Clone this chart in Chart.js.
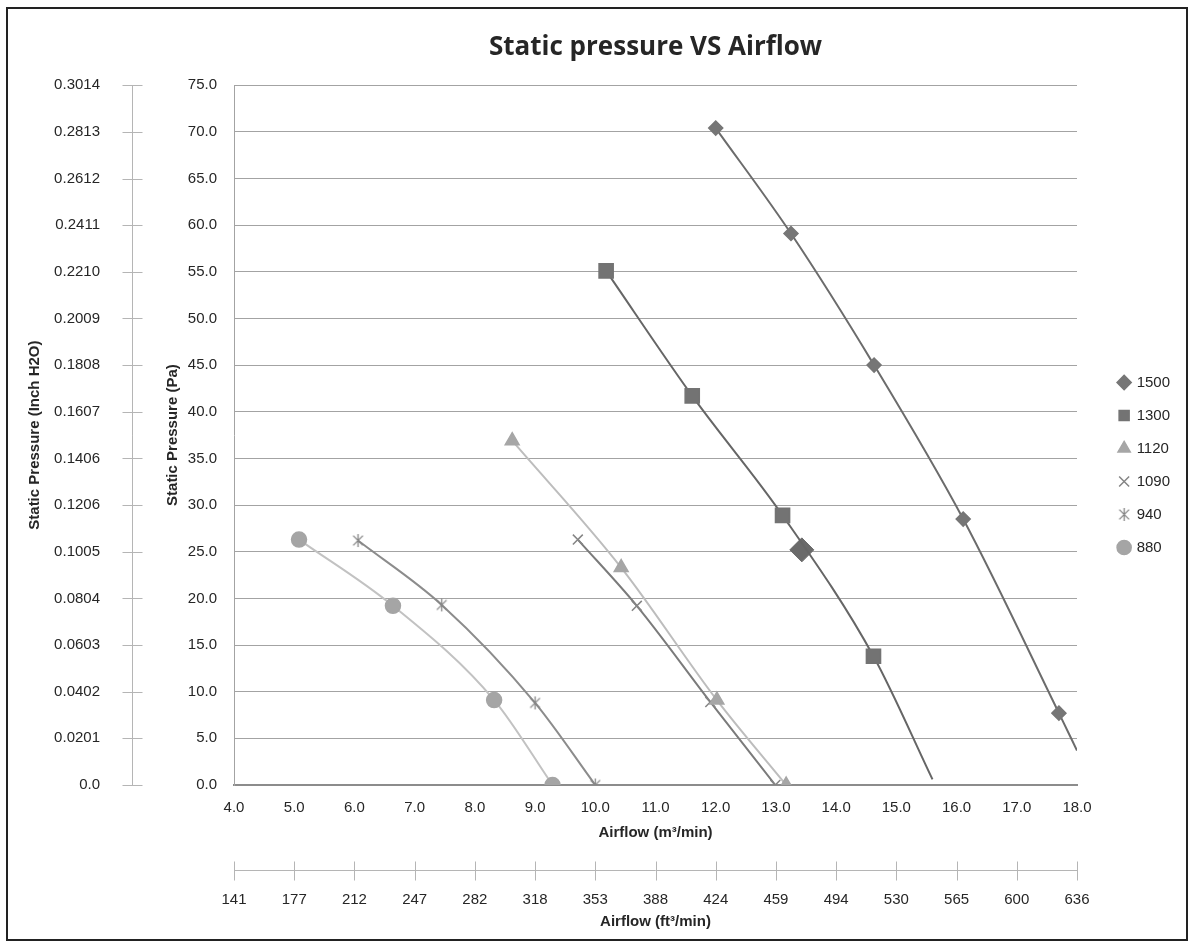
<!DOCTYPE html>
<html lang="en">
<head>
<meta charset="UTF-8">
<title>Static pressure VS Airflow</title>
<script src="https://cdn.jsdelivr.net/npm/chart.js"></script>
<style>
  html, body { margin: 0; padding: 0; background: #fff; }
  #wrap { width: 1190px; height: 948px; }
</style>
</head>
<body>
<div id="wrap"><canvas id="chart" width="1190" height="948"></canvas></div>
<script>
// fan speeds (legend)
const seriesNames = ['1500', '1300', '1120', '1090', '940', '880'];

// airflow (m3/min) and static pressure (Pa)
// the last entry of 1500 and 1300 is where the drawn curve ends (no marker)
const flow1500 = [12.00, 13.25, 14.63, 16.11, 17.70, 18.00];
const pa1500   = [70.4, 59.1, 45.0, 28.5, 7.7, 3.7];
const flow1300 = [10.18, 11.61, 13.11, 14.62, 15.60];
const pa1300   = [55.1, 41.7, 28.9, 13.8, 0.6];
const flow1120 = [8.62, 10.43, 12.02, 13.17];
const pa1120   = [36.9, 23.3, 9.1, 0.0];
const flow1090 = [9.71, 10.69, 11.91, 12.99];
const pa1090   = [26.3, 19.2, 8.9, 0.0];
const flow940  = [6.06, 7.45, 9.00, 10.00];
const pa940    = [26.2, 19.3, 8.8, 0.0];
const flow880  = [5.08, 6.64, 8.32, 9.29];
const pa880    = [26.3, 19.2, 9.1, 0.0];

// highlighted point sitting on the 1300 curve
const selFlow = [13.43];
const selPa   = [25.2];

// secondary axis labels
const inchTicks = ['0.0', '0.0201', '0.0402', '0.0603', '0.0804', '0.1005', '0.1206', '0.1406',
                   '0.1607', '0.1808', '0.2009', '0.2210', '0.2411', '0.2612', '0.2813', '0.3014'];
const cfmTicks = ['141', '177', '212', '247', '282', '318', '353', '388', '424', '459', '494',
                  '530', '565', '600', '636'];

const FONT = "'Liberation Sans', Arial, sans-serif";
Chart.defaults.font.family = FONT;
Chart.defaults.color = '#262626';

// asterisk marker for the 940 series
function asterisk(size, color) {
    const c = document.createElement('canvas');
    c.width = size; c.height = size;
    const g = c.getContext('2d');
    const m = size / 2, r = size / 2 - 1;
    g.strokeStyle = color;
    g.lineWidth = 1.3;
    g.beginPath();
    g.moveTo(m, m - r); g.lineTo(m, m + r);
    g.moveTo(m - r * 0.75, m - r * 0.75); g.lineTo(m + r * 0.75, m + r * 0.75);
    g.moveTo(m + r * 0.75, m - r * 0.75); g.lineTo(m - r * 0.75, m + r * 0.75);
    g.stroke();
    return c;
}

function pts(xs, ys) {
    return xs.map((x, i) => ({ x: x, y: ys[i] }));
}

// markers only on the measured points, not on the curve tail
function radii(n, r, tail) {
    const a = [];
    for (let i = 0; i < n; i++) a.push(i >= n - tail ? 0 : r);
    return a;
}

function series(label, xs, ys, marker, line, style, r, tail) {
    return {
        label: label,
        data: pts(xs, ys),
        showLine: true,
        cubicInterpolationMode: 'monotone',
        borderColor: line,
        borderWidth: 2,
        backgroundColor: marker,
        pointStyle: style,
        pointRadius: radii(xs.length, r, tail),
        pointHoverRadius: radii(xs.length, r, tail),
        pointBackgroundColor: marker,
        pointBorderColor: marker,
        pointBorderWidth: 1.5
    };
}

const datasets = [
    series(seriesNames[0], flow1500, pa1500, '#767676', '#6c6c6c', 'rectRot', 7, 1),
    series(seriesNames[1], flow1300, pa1300, '#737373', '#666666', 'rect', 10, 1),
    series(seriesNames[2], flow1120, pa1120, '#a6a6a6', '#bdbdbd', 'triangle', 8, 0),
    series(seriesNames[3], flow1090, pa1090, '#858585', '#7b7b7b', 'crossRot', 7, 0),
    series(seriesNames[4], flow940, pa940, '#8a8a8a', '#8c8c8c', asterisk(15, '#858585'), 7, 0),
    series(seriesNames[5], flow880, pa880, '#a5a5a5', '#c2c2c2', 'circle', 7.5, 0),
    {
        label: 'selected',
        data: pts(selFlow, selPa),
        showLine: false,
        pointStyle: 'rectRot',
        pointRadius: 12,
        backgroundColor: '#6a6a6a',
        pointBackgroundColor: '#6a6a6a',
        pointBorderColor: '#6a6a6a'
    }
];

// inch H2O axis and ft3/min axis: line with ticks crossing it, plus the outer frame
const extraAxes = {
    id: 'extraAxes',
    afterDraw(chart) {
        const { ctx, scales: { y2, x2 } } = chart;
        ctx.save();
        ctx.strokeStyle = '#b5b5b5';
        ctx.lineWidth = 1;
        ctx.beginPath();
        const ax = Math.round(y2.right - 10) + 0.5;
        ctx.moveTo(ax, y2.getPixelForValue(0));
        ctx.lineTo(ax, y2.getPixelForValue(75));
        y2.ticks.forEach(t => {
            const py = Math.round(y2.getPixelForValue(t.value)) + 0.5;
            ctx.moveTo(ax - 10, py); ctx.lineTo(ax + 10, py);
        });
        const ay = Math.round(x2.top + 25) + 0.5;
        ctx.moveTo(x2.getPixelForValue(4), ay);
        ctx.lineTo(x2.getPixelForValue(18), ay);
        x2.ticks.forEach(t => {
            const px = Math.round(x2.getPixelForValue(t.value)) + 0.5;
            ctx.moveTo(px, ay - 9); ctx.lineTo(px, ay + 10);
        });
        ctx.stroke();

        ctx.strokeStyle = '#222';
        ctx.lineWidth = 2;
        ctx.strokeRect(7, 8, 1180, 932);
        ctx.restore();
    }
};

const tickFont = { family: FONT, size: 15 };
const titleFont = { family: FONT, size: 15, weight: 'bold' };

new Chart(document.getElementById('chart'), {
    type: 'scatter',
    data: { datasets: datasets },
    options: {
        responsive: false,
        animation: false,
        devicePixelRatio: 1,
        layout: { padding: { top: 10, left: 8, right: 10, bottom: 10 } },
        plugins: {
            title: {
                display: true,
                text: 'Static pressure VS Airflow',
                fullSize: false,
                color: '#262626',
                font: { family: "'Open Sans'", size: 26, weight: 'bold' },
                padding: { top: 22, bottom: 22 }
            },
            legend: {
                position: 'right',
                align: 'start',
                title: { display: true, text: ' ', font: { size: 10 }, padding: { top: 0, bottom: 335 } },
                labels: {
                    usePointStyle: true,
                    boxHeight: 10,
                    boxWidth: 10,
                    padding: 18,
                    font: tickFont,
                    color: '#262626',
                    filter: item => item.text !== 'selected'
                }
            },
            tooltip: { enabled: false }
        },
        scales: {
            x: {
                type: 'linear',
                position: 'bottom',
                min: 4, max: 18,
                afterFit: s => { s.height = 60; },
                ticks: { stepSize: 1, font: tickFont, padding: 14, callback: v => v.toFixed(1) },
                grid: { display: false, drawTicks: false },
                border: { display: true, color: '#8c8c8c', width: 2 },
                title: { display: true, text: 'Airflow (m³/min)', font: titleFont, padding: { top: 0, bottom: 3 } }
            },
            x2: {
                type: 'linear',
                position: 'bottom',
                min: 4, max: 18,
                afterFit: s => { s.height = 93; },
                ticks: { stepSize: 1, font: tickFont, padding: 46, callback: v => cfmTicks[Math.round(v - 4)] },
                grid: { display: false, drawTicks: false },
                border: { display: false },
                title: { display: true, text: 'Airflow (ft³/min)', font: titleFont, padding: { top: 0, bottom: 7 } }
            },
            y: {
                type: 'linear',
                position: 'left',
                min: 0, max: 75,
                weight: 0,
                afterFit: s => { s.width = 92; },
                ticks: { stepSize: 5, font: tickFont, padding: 17, callback: v => v.toFixed(1) },
                grid: { color: '#a3a3a3', drawTicks: false },
                border: { display: true, color: '#a3a3a3' },
                title: { display: true, text: 'Static Pressure (Pa)', font: titleFont, padding: { top: 22, bottom: 0 } }
            },
            y2: {
                type: 'linear',
                position: 'left',
                min: 0, max: 75,
                weight: 1,
                afterFit: s => { s.width = 134; },
                ticks: { stepSize: 5, font: tickFont, padding: 42, callback: v => inchTicks[Math.round(v / 5)] },
                grid: { display: false, drawTicks: false },
                border: { display: false },
                title: { display: true, text: 'Static Pressure (Inch H2O)', font: titleFont, padding: { top: 18, bottom: 0 } }
            },
            gap: {
                type: 'linear',
                position: 'right',
                display: true,
                afterFit: s => { s.width = Math.max(0, s.chart.width - 10 - s.chart.legend.width - 1077); },
                ticks: { display: false },
                grid: { display: false, drawTicks: false },
                border: { display: false }
            }
        }
    },
    plugins: [extraAxes]
});
</script>
</body>
</html>
